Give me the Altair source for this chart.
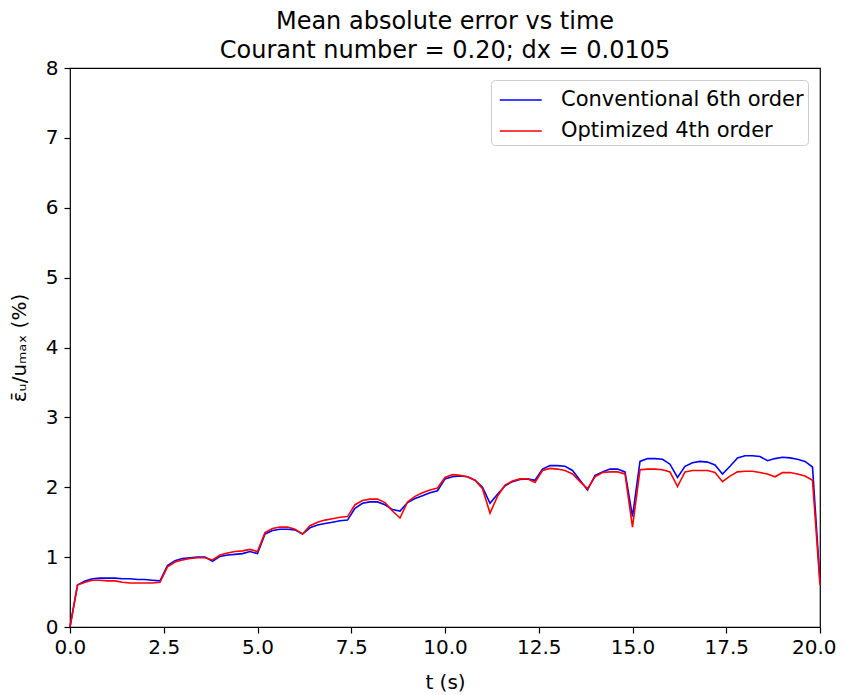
import altair as alt
import pandas as pd

t = [round(i * 0.2, 1) for i in range(101)]

conventional = [
    0.00, 0.60, 0.66, 0.69, 0.70, 0.70, 0.70, 0.69, 0.69, 0.68,
    0.68, 0.67, 0.66, 0.88, 0.95, 0.98, 0.99, 1.00, 1.00, 0.94,
    1.01, 1.03, 1.04, 1.05, 1.08, 1.05, 1.33, 1.38, 1.40, 1.40,
    1.39, 1.33, 1.42, 1.46, 1.48, 1.50, 1.52, 1.53, 1.70, 1.77,
    1.79, 1.79, 1.75, 1.68, 1.66, 1.78, 1.84, 1.88, 1.92, 1.95,
    2.12, 2.15, 2.16, 2.15, 2.10, 2.00, 1.77, 1.90, 2.02, 2.08,
    2.11, 2.12, 2.10, 2.26, 2.31, 2.31, 2.30, 2.24, 2.10, 1.96,
    2.17, 2.22, 2.26, 2.26, 2.22, 1.58, 2.37, 2.41, 2.41, 2.40,
    2.33, 2.14, 2.30, 2.35, 2.37, 2.36, 2.32, 2.19, 2.30, 2.42,
    2.45, 2.45, 2.44, 2.38, 2.41, 2.43, 2.42, 2.40, 2.37, 2.29,
    0.65,
]

optimized = [
    0.00, 0.60, 0.64, 0.67, 0.67, 0.66, 0.66, 0.64, 0.63, 0.63,
    0.63, 0.63, 0.64, 0.86, 0.93, 0.96, 0.98, 0.99, 0.99, 0.96,
    1.03, 1.06, 1.08, 1.09, 1.11, 1.08, 1.35, 1.41, 1.43, 1.43,
    1.40, 1.33, 1.45, 1.50, 1.53, 1.55, 1.57, 1.58, 1.75, 1.81,
    1.83, 1.83, 1.78, 1.66, 1.56, 1.79, 1.87, 1.92, 1.96, 1.99,
    2.14, 2.18, 2.17, 2.15, 2.10, 1.98, 1.63, 1.87, 2.03, 2.09,
    2.12, 2.12, 2.07, 2.24, 2.27, 2.26, 2.24, 2.19, 2.08, 1.98,
    2.15, 2.21, 2.22, 2.22, 2.19, 1.43, 2.25, 2.26, 2.26, 2.25,
    2.22, 2.01, 2.22, 2.24, 2.24, 2.24, 2.21, 2.08, 2.16, 2.22,
    2.23, 2.23, 2.21, 2.19, 2.15, 2.21, 2.21, 2.19, 2.16, 2.10,
    0.60,
]

series_names = ["Conventional 6th order", "Optimized 4th order"]
series_colors = ["#0000ff", "#ff0000"]
x_ticks = [0, 2.5, 5, 7.5, 10, 12.5, 15, 17.5, 20]
y_ticks = [0, 1, 2, 3, 4, 5, 6, 7, 8]

rows = []
for name, vals in zip(series_names, [conventional, optimized]):
    for ti, v in zip(t, vals):
        rows.append({"t": ti, "err": v, "series": name})
df = pd.DataFrame(rows)

FONT = "DejaVu Sans"

chart = alt.Chart(df).mark_line(strokeWidth=1.6).encode(
    x=alt.X("t:Q",
            scale=alt.Scale(domain=[0, 20], nice=False, zero=False),
            axis=alt.Axis(values=x_ticks, format=".1f", title="t (s)",
                          labelFlush=True, labelFlushOffset=16,
                          titlePadding=15)),
    y=alt.Y("err:Q",
            scale=alt.Scale(domain=[0, 8], nice=False),
            axis=alt.Axis(values=y_ticks, format="d", labelPadding=6,
                          title="ε̄ᵤ/uₘₐₓ (%)", titlePadding=16)),
    color=alt.Color("series:N",
                    scale=alt.Scale(domain=series_names, range=series_colors),
                    legend=alt.Legend(title=None, orient="top-right", offset=12,
                                      symbolType="M-0.75,0H2.05", symbolSize=900,
                                      symbolStrokeWidth=1.6, labelFontSize=21,
                                      labelFont=FONT, labelColor="black",
                                      labelOffset=34, labelLimit=400,
                                      rowPadding=5, padding=4,
                                      strokeColor="#cccccc",
                                      cornerRadius=4, fillColor="white")),
    order=alt.Order("t:Q"),
).properties(
    width=750,
    height=559,
    autosize=alt.AutoSizeParams(type="none"),
    padding={"left": 62, "top": 60, "right": 17, "bottom": 67},
    title=alt.TitleParams(
        text=["Mean absolute error vs time", "Courant number = 0.20; dx = 0.0105"],
        fontSize=24, font=FONT, fontWeight="normal", color="black",
        anchor="middle", lineHeight=29, offset=-5,
    ),
).configure_view(
    stroke="black", strokeWidth=1.2
).configure_axis(
    grid=False, domain=False, tickColor="black", tickSize=6, tickWidth=1.2,
    labelFont=FONT, labelFontSize=20, labelColor="black", labelPadding=4,
    titleFont=FONT, titleFontSize=20, titleColor="black", titleFontWeight="normal",
)

chart.save("out.html", embed_options={"renderer": "svg", "actions": False})
